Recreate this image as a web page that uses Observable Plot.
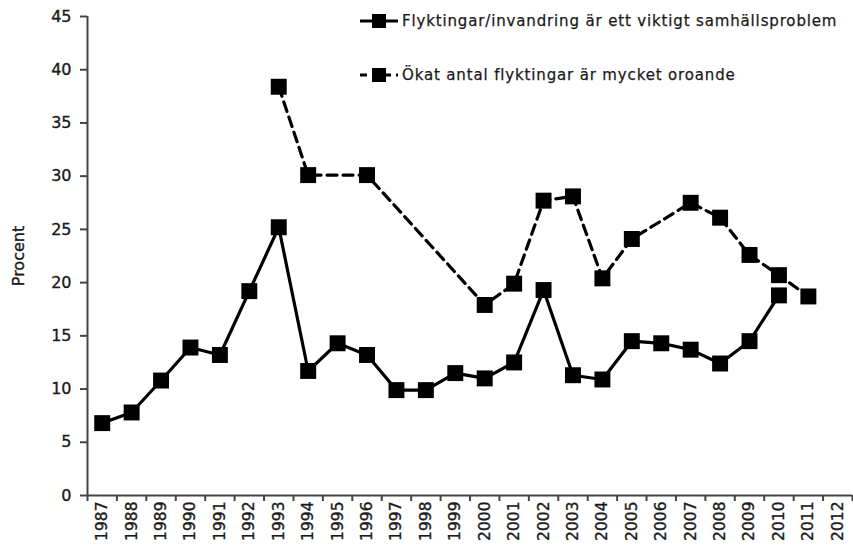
<!DOCTYPE html>
<html><head><meta charset="utf-8">
<script src="https://cdn.jsdelivr.net/npm/d3@7"></script>
<script src="https://cdn.jsdelivr.net/npm/@observablehq/plot@0.6"></script>
<style>
body{margin:0;background:#fff;}
#wrap{position:relative;width:853px;height:555px;font-family:"DejaVu Sans",sans-serif;}
#wrap svg text{stroke:#1a1a1a;stroke-width:0.35px;}
.leg{position:absolute;left:359px;display:flex;align-items:center;font-size:15px;letter-spacing:0.85px;color:#1a1a1a;white-space:nowrap;-webkit-text-stroke:0.25px #1a1a1a;}
.leg svg{margin-right:3px;}
</style></head><body><div id="wrap"></div>
<script>
const years = [1987,1988,1989,1990,1991,1992,1993,1994,1995,1996,1997,1998,1999,2000,2001,2002,2003,2004,2005,2006,2007,2008,2009,2010,2011,2012];
const problem = [6.8,7.8,10.8,13.9,13.2,19.2,25.2,11.7,14.3,13.2,9.9,9.9,11.5,11.0,12.5,19.3,11.3,10.9,14.5,14.3,13.7,12.4,14.5,18.8,null,null];
const worry = [null,null,null,null,null,null,38.4,30.1,null,30.1,null,null,null,17.9,19.9,27.7,28.1,20.4,24.1,null,27.5,26.1,22.6,20.7,18.7,null];
const seriesNames = ["Flyktingar/invandring är ett viktigt samhällsproblem","Ökat antal flyktingar är mycket oroande"];
const yTicks = [0,5,10,15,20,25,30,35,40,45];
const yLabel = "Procent";

const s1 = years.map((y,i)=>({year:y,value:problem[i]})).filter(d=>d.value!=null);
const s2 = years.map((y,i)=>({year:y,value:worry[i]})).filter(d=>d.value!=null);
const bounds = years.map(y=>y-0.5).concat([years[years.length-1]+0.5]);

const chart = Plot.plot({
  width: 853, height: 555,
  marginLeft: 87, marginRight: 1, marginTop: 16, marginBottom: 60,
  style: {fontFamily: "DejaVu Sans, sans-serif", fontSize: "14px", color: "#1a1a1a", background: "#fff"},
  x: {type: "linear", domain: [bounds[0], bounds[bounds.length-1]]},
  y: {domain: [0, 45]},
  marks: [
    Plot.axisY({ticks: yTicks, tickSize: 7, tickPadding: 9, label: null, stroke: "#444", strokeWidth: 2, fontSize: 16}),
    Plot.axisX({ticks: bounds, tickSize: 6, tickFormat: () => "", label: null, stroke: "#444", strokeWidth: 2}),
    Plot.axisX({ticks: years, tickSize: 0, tickPadding: 6, tickRotate: -90, tickFormat: d => String(d), label: null, fontSize: 15.5}),
    Plot.ruleY([0], {stroke: "#444", strokeWidth: 2}),
    Plot.ruleX([bounds[0]], {stroke: "#444", strokeWidth: 2}),
    Plot.text([yLabel], {frameAnchor: "left", textAnchor: "middle", rotate: -90, dx: -69, fontSize: 16, fill: "#1a1a1a"}),
    Plot.line(s2, {x: "year", y: "value", stroke: "#000", strokeWidth: 3.2, strokeDasharray: "10,6"}),
    Plot.line(s1, {x: "year", y: "value", stroke: "#000", strokeWidth: 3.2}),
    Plot.dot(s2, {x: "year", y: "value", symbol: "square", r: 9, fill: "#000", stroke: "none"}),
    Plot.dot(s1, {x: "year", y: "value", symbol: "square", r: 9, fill: "#000", stroke: "none"})
  ]
});
const wrap = document.getElementById("wrap");
wrap.appendChild(chart);

function legendItem(name, dashed, top){
  const div = document.createElement("div");
  div.className = "leg";
  div.style.top = top + "px";
  div.innerHTML = `<svg width="40" height="16"><line x1="1" y1="8" x2="39" y2="8" stroke="#000" stroke-width="3" ${dashed ? 'stroke-dasharray="7,5"' : ''}/><rect x="13" y="1" width="14" height="14" fill="#000"/></svg><span>${name}</span>`;
  wrap.appendChild(div);
}
legendItem(seriesNames[0], false, 12);
legendItem(seriesNames[1], true, 66);
</script>
</body></html>
